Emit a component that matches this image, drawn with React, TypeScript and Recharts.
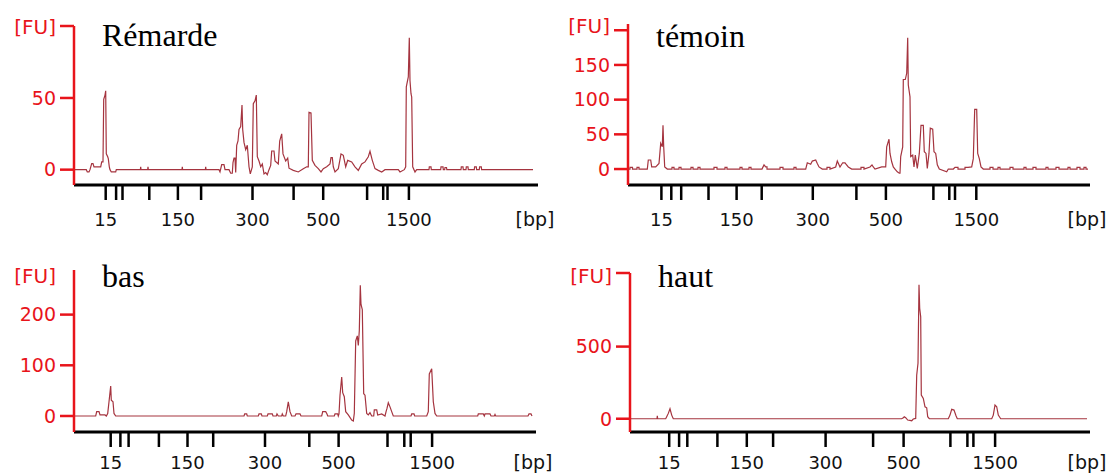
import React from 'react';
import { LineChart, Line, XAxis, YAxis } from 'recharts';

// ladder sizes marked under the x axis (bp); only some are labelled
const ladderBp = [15, 25, 50, 100, 150, 200, 300, 400, 500, 700, 850, 1000, 1500];
const labelledBp = [15, 150, 300, 500, 1500];

// migration time of each ladder size, per run
const remardeLadder = [31.7, 42.1, 48.5, 75.3, 103.9, 127.1, 178.5, 219.6, 249.2, 293.1, 309.2, 313.5, 334.9];
const temoinLadder = [33.4, 43.3, 53.2, 80.5, 108.6, 133.7, 184.8, 228.4, 257.9, 305.4, 321.3, 327, 348.3];
const basLadder = [36.7, 46.4, 54.6, 84.9, 113.5, 139.2, 191, 235.3, 264.6, 313.5, 330.3, 336.7, 358.1];
const hautLadder = [39.2, 49.1, 57.3, 87.4, 116.8, 143.1, 195.6, 243.1, 273.6, 320.4, 337.4, 343.4, 365.1];

// traces: [time, FU]
const remarde: [number, number][] = [
  [0, 0], [12.3, 0], [13.3, -1.6], [15, -1.6], [16, 0], [17.7, 4.2], [19, 4.2], [20, 1.9], [26.7, 1.9], [27.7, 5.4], [29, 5.4],
  [29.7, 49], [31, 52], [31.7, 55], [32.3, 11], [33.7, 9], [34.3, 7.7], [35.3, 2], [36, 0], [37.3, -1.6], [41.7, -1.6], [42.3, 0],
  [66.4, 0], [66.7, 2], [67, 0], [73.7, 0], [74, 2], [74.3, 0], [108, 0], [108.3, 2], [108.6, 0], [131.4, 0], [131.7, 2], [132, 0],
  [145, 0], [146, -1.6], [147.7, 3.5], [150, 3.5], [151, 0], [155, 0], [156.7, -2.5], [158.3, -2.5], [159, 5], [160, 8], [161, 8],
  [161.7, -2], [162.7, 17], [164, 20], [165, 28], [166.7, 30], [168, 45], [168.7, 28], [170, 19], [171.7, 14], [173.3, 17], [175, 2],
  [176.3, -3], [178.3, 2], [179.3, 46], [181, 48], [182.3, 52], [183.3, 9], [185, 6], [186.7, 2], [188.3, 4], [190, -3], [191.7, -2],
  [193.3, -3.5], [195, 0], [196.7, 3], [197.7, 13], [200, 13], [201, 6], [204.3, 4], [205.7, 20], [207.7, 25], [209, 11], [211.7, 6],
  [213.7, 8], [215, 1], [219.3, -0.5], [224.3, -1.6], [229.3, 0.7], [232.7, 2], [234.3, 2], [235, 40], [237, 39.5], [238.3, 6.5],
  [241, 3], [244.3, 0.7], [247, -1.6], [249.3, 0.7], [252.7, 2], [256, 4], [257, 8.4], [258.3, 8.4], [259.3, 2], [261, -1.6],
  [264.3, 0.7], [267, 11], [269.3, 10], [271.7, 2], [273.7, 6.5], [277.7, 5.4], [281, 2], [284.3, -0.5], [287.7, 4], [291, 5.4],
  [294.3, 9], [296, 12.8], [298.3, 6.5], [301, 0.7], [304.3, -0.5], [307.7, -1.6], [311, 0], [324.3, 0], [326, -1.6], [330.3, 0],
  [331.7, 2], [332.3, 57.7], [334.3, 64.7], [335.3, 92], [336, 62], [337, 53], [337.7, 50.7], [338.7, 2], [341, -1.6], [342.7, 0],
  [355, 0], [355.3, 2], [357, 2], [357.3, 0], [366.7, 0], [367, 2], [369, 2], [369.3, 0], [370.7, 0], [371, 1.5], [372.5, 1.5],
  [372.8, 0], [387, 0], [387.3, 2], [389, 2], [389.3, 0], [392, 0], [392.3, 2], [394, 2], [394.3, 0], [400.3, 0], [400.6, 2],
  [402.3, 2], [402.6, 0], [405.3, 0], [405.6, 2], [407.3, 2], [407.6, 0], [459, 0],
];

const temoin: [number, number][] = [
  [0, 0], [2, 0], [2, 2.5], [4.5, 2.5], [4.5, 0], [9, 0], [9, 2.5], [11, 2.5], [11, 0], [19.3, 0],
  [20.3, 13], [22.7, 13], [23.7, 3], [27.7, 3], [31, 8], [32.7, 37], [34.3, 32], [35, 63], [35.7, 32], [36.7, 3], [39.3, 0],
  [44, 0], [44, 2.5], [46, 2.5], [46, 0], [51, 0], [51, 2.5], [53, 2.5], [53, 0], [63, 0], [63, 2.5], [65, 2.5], [65, 0],
  [70, 0], [70, 2.5], [72, 2.5], [72, 0], [86, 0], [86, 2.5], [89, 2.5], [89, 0], [97, 0], [97, 2.5], [99, 2.5], [99, 0],
  [112, 0], [112, 2.5], [114, 2.5], [114, 0], [121, 0], [121, 2.5], [123, 2.5], [123, 0], [134, 0], [136, 6], [137.7, 3],
  [139, 3], [139, 0], [152, 0], [152, 2.5], [155, 2.5], [155, 0], [166, 0], [166, 2.5], [168, 2.5], [168, 0],
  [177.7, 0], [179.3, 9], [182.7, 7], [184.3, 11.5], [187.7, 13], [189.3, 8], [191, 3], [194.3, 0], [199, 0], [199, 2.5],
  [202, 2.5], [202, 0], [207.7, 3], [209.3, 11.5], [212, 3], [214.7, 9], [217, 9], [218, 7], [220.3, 3], [223.7, 0], [233, 0],
  [233, 2.5], [236, 2.5], [236, 0], [242, 3], [244, 6], [245.3, 3], [247, 0], [253.7, 3], [257.7, 3],
  [258.7, 32], [261, 43], [262, 22.5], [263.7, 10.5], [265.3, 3], [267, 0], [269.3, -4], [271.3, -6], [272, -6], [272.7, 18],
  [274.7, 32], [275.3, 129], [277.3, 129], [278.7, 138], [279.7, 189], [280.3, 121], [282, 104], [282.7, 18], [284.7, 20],
  [286, 3], [287.3, 20], [289.3, 1], [291.3, 22.5], [293, 63], [295.3, 63], [296.3, 25], [298, 22.5], [299.3, 1], [301, 22.5],
  [302.3, 59], [304.7, 57.5], [306, 25], [307.7, 22.5], [309.3, 6], [311.3, 0], [318.7, -4], [320.3, 0], [325.3, 0], [327, 2.5],
  [330, 2.5], [330, 0], [337, 0], [337, 2.5], [340, 2.5], [343.7, 3], [345.3, 15], [346.7, 86],
  [348.7, 86], [349.7, 22.5], [351.3, 15], [353, 3], [355.3, 0], [362, 0], [362, 2.5], [365, 2.5], [365, 0], [370, 0], [370, 2.5],
  [372, 2.5], [372, 0], [382, 0], [382, 2.5], [385, 2.5], [385, 0], [396, 0], [396, 2.5], [398, 2.5], [398, 0], [405, 0],
  [405, 2.5], [408, 2.5], [408, 0], [418, 0], [418, 2.5], [420, 2.5], [420, 0], [428, 0], [428, 2.5], [431, 2.5], [431, 0],
  [440, 0], [440, 2.5], [442, 2.5], [442, 0], [449, 0], [449, 2.5], [452, 2.5], [452, 0], [456, 0], [456, 2.5], [458, 2.5],
  [458, 0], [460, 0],
];

const bas: [number, number][] = [
  [0, 0], [21.7, 0], [22.7, 8.5], [25, 8.5], [26, 2], [31, 2], [32.3, 0], [33.7, 5], [35, 28], [36.7, 59], [37.3, 31], [39, 28],
  [40, 5], [41.7, 0], [170, 0], [170.7, 4], [172.7, 4], [173.3, 0], [184.3, 0], [185, 4], [187.3, 4], [188, 0], [193.3, 0],
  [194, 4], [198.3, 4], [199, 0], [202.3, 0], [203, 4], [204.3, 0], [207.7, 0], [208.3, 4], [209.3, 0], [211.7, 0], [212.7, 8.5],
  [214.3, 28], [216, 8.5], [217.7, 0], [221, 0], [222, 4], [226, 4], [227, 0], [247.7, 0], [248.7, 8.5], [251.7, 8.5], [253, 4],
  [253.7, 0], [260.3, 0], [261, 4], [263.7, 4], [264.3, 0], [265, 4], [266, 41], [267.7, 77], [268.7, 46], [270.3, 38],
  [271.7, 8.5], [274.3, 2], [277.7, -8], [279.3, -10], [280.3, 5], [281.7, 148], [283.3, 158], [284.3, 139], [285.3, 168],
  [286.3, 258], [287, 220], [288.3, 210], [289.7, 44], [291, 41], [292.7, 5], [294.3, 2], [296, 6.5], [297.7, 0], [299.7, 0],
  [300.3, 12], [302.7, 12], [303.7, 2], [307.7, 4], [311, 0], [312, 8], [313, 15], [314.3, 26], [316, 18], [317.7, 8.5],
  [319.3, 0], [337, 0], [337.7, 4], [340, 4], [340.7, 0], [352.7, 0], [354.3, 8.5], [355.3, 83], [357.7, 93], [359.3, 28],
  [361, 5], [362.7, 0], [403.7, 0], [404.3, 4], [409.3, 4], [410.3, 0], [411, 4], [416, 4], [417, 0], [420.3, 0], [421, 3],
  [421.7, 0], [454, 0], [455, 4], [457, 4], [458, 0],
];

const haut: [number, number][] = [
  [0, 0], [27, 0], [27.3, 20], [27.7, 0], [35.7, 0], [36.7, 14], [38.3, 37], [40, 69], [41.7, 25], [43.3, 0], [271.7, 0],
  [273.3, 7], [274.3, 14], [275.7, 7], [277.7, -9], [280, -12], [281.7, -14], [283.3, -2], [285.7, 2], [286.7, 301], [288, 384],
  [289, 928], [289.7, 766], [290.7, 706], [291.3, 164], [293.3, 141], [295, 83], [296.7, 76], [297.7, 14], [299.3, 0],
  [318.3, 0], [320, 25], [321.7, 65], [324, 60], [326, 21], [327.3, 0], [361.7, 0], [363.3, 25], [365, 95], [366.7, 83],
  [368.3, 25], [370.7, 0], [457, 0],
];

const RED = '#e8141b';
const TRACE = '#a5343f';

function FuTick(props: any) {
  const { x, y, payload, fu } = props;
  const isFu = payload.value === fu.value;
  return (
    <g>
      {(!isFu || fu.line) && <line x1={x - 14} y1={y} x2={x} y2={y} stroke={RED} strokeWidth={2.5} />}
      <text x={x - 18} y={isFu ? y + fu.dy : y} dy="0.36em" textAnchor="end" fill={RED} fontSize={isFu ? 20 : 19} fontFamily="DejaVu Sans">
        {isFu ? '[FU]' : payload.value}
      </text>
    </g>
  );
}

function LadderTick(props: any) {
  const { x, y, index, labelDy } = props;
  const bp = ladderBp[index];
  return (
    <g>
      <line x1={x} y1={y} x2={x} y2={y + 15} stroke="#000" strokeWidth={2.5} />
      {labelledBp.includes(bp) && (
        <text x={x} y={y + labelDy} textAnchor="middle" fill="#111" fontSize={18} fontFamily="DejaVu Sans">{bp}</text>
      )}
    </g>
  );
}

const panels = [
  { name: 'Rémarde', trace: remarde, ladder: remardeLadder, left: 0, top: 0, w: 555, h: 235, plotLeft: 74, plotTop: 26, plotW: 464, plotH: 159,
    yDomain: [-10.7, 100.2], yTicks: [0, 50, 100.2], fu: { value: 100.2, dy: 1, line: true }, labelDy: 41, titleY: 46 },
  { name: 'témoin', trace: temoin, ladder: temoinLadder, left: 555, top: 0, w: 556, h: 235, plotLeft: 73, plotTop: 24, plotW: 462, plotH: 161,
    yDomain: [-23, 209], yTicks: [0, 50, 100, 150, 200], fu: { value: 200, dy: -4, line: true }, labelDy: 41, titleY: 46.7 },
  { name: 'bas', trace: bas, ladder: basLadder, left: 0, top: 235, w: 555, h: 240, plotLeft: 74, plotTop: 35, plotW: 462, plotH: 162,
    yDomain: [-31.6, 288], yTicks: [0, 100, 200, 277], fu: { value: 277, dy: 0, line: false }, labelDy: 37, titleY: 51.7 },
  { name: 'haut', trace: haut, ladder: hautLadder, left: 555, top: 235, w: 556, h: 240, plotLeft: 75, plotTop: 38, plotW: 460, plotH: 159,
    yDomain: [-92, 1010], yTicks: [0, 500, 1010], fu: { value: 1010, dy: 3, line: true }, labelDy: 37, titleY: 51.7 },
];

function Panel({ p }: { p: any }) {
  const data = p.trace.map(([t, fu]: [number, number]) => ({ t, fu }));
  const xAxisH = p.h - p.plotTop - p.plotH;
  const axisEnd = p.plotLeft + p.plotW;
  const axisY = p.plotTop + p.plotH;
  return (
    <LineChart width={p.w} height={p.h} data={data}
      margin={{ top: p.plotTop, right: p.w - axisEnd, bottom: 0, left: 0 }}>
      <XAxis dataKey="t" type="number" domain={[0, p.plotW]} allowDataOverflow ticks={p.ladder} interval={0}
        height={xAxisH} tickSize={0} tickMargin={0} axisLine={{ stroke: '#000', strokeWidth: 3 }} tickLine={false}
        tick={(props: any) => <LadderTick {...props} labelDy={p.labelDy} />} />
      <YAxis type="number" domain={p.yDomain} allowDataOverflow ticks={p.yTicks} interval={0} width={p.plotLeft}
        tickSize={0} tickMargin={0} axisLine={{ stroke: RED, strokeWidth: 2.5 }} tickLine={false}
        tick={(props: any) => <FuTick {...props} fu={p.fu} />} />
      <Line type="linear" dataKey="fu" stroke={TRACE} strokeWidth={1.2} dot={false} activeDot={false} isAnimationActive={false} />
      <text x={p.plotLeft + 28} y={p.titleY} fontSize={32} fontFamily="Liberation Serif" fill="#000">{p.name}</text>
      <text x={axisEnd - 3} y={axisY + p.labelDy} textAnchor="middle" fontSize={19} fontFamily="DejaVu Sans" fill="#111">[bp]</text>
    </LineChart>
  );
}

export default function App() {
  return (
    <div style={{ position: 'absolute', left: 0, top: 0, width: 1111, height: 475, background: '#fff', overflow: 'hidden' }}>
      {panels.map((p) => (
        <div key={p.name} style={{ position: 'absolute', left: p.left, top: p.top }}>
          <Panel p={p} />
        </div>
      ))}
    </div>
  );
}
